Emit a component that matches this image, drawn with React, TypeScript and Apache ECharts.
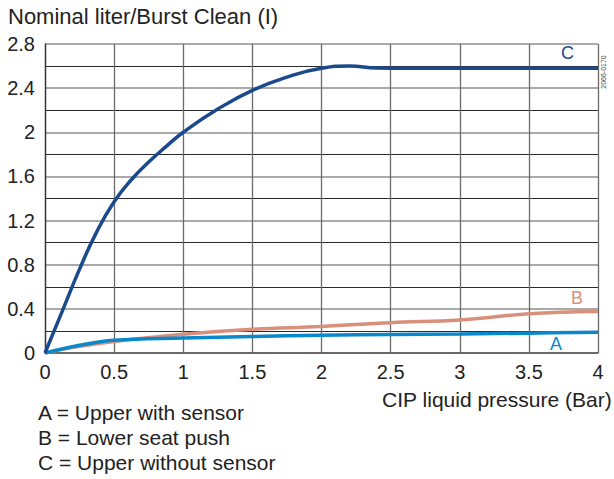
import React, { useEffect, useRef } from "react";
import * as echarts from "echarts";

const xC = [0, 0.125, 0.25, 0.375, 0.5, 0.625, 0.75, 0.875, 1, 1.25, 1.5, 1.75, 2, 2.2, 2.4, 2.6, 3, 3.5, 4];
const yC = [0, 0.38, 0.76, 1.1, 1.37, 1.57, 1.73, 1.87, 2.0, 2.21, 2.38, 2.5, 2.58, 2.6, 2.583, 2.58, 2.58, 2.58, 2.58];
const xB = [0, 0.25, 0.5, 1, 1.5, 2, 2.5, 3, 3.5, 4];
const yB = [0, 0.06, 0.105, 0.17, 0.215, 0.24, 0.275, 0.3, 0.355, 0.375];
const xA = [0, 0.25, 0.5, 1, 1.5, 2, 2.5, 3, 3.5, 4];
const yA = [0, 0.07, 0.115, 0.135, 0.15, 0.16, 0.168, 0.173, 0.18, 0.188];

const yTitle = "Nominal liter/Burst Clean (I)";
const xTitle = "CIP liquid pressure (Bar)";
const legendLines = ["A = Upper with sensor", "B = Lower seat push", "C = Upper without sensor"];
const code = "2066-0170";

const colC = "#1b4a8c";
const colB = "#d9907a";
const colA = "#0a88cc";
const FONT = "'Liberation Sans', Arial, sans-serif";

const zip = (xs: number[], ys: number[]) => xs.map((x, i) => [x, ys[i]]);

export default function App() {
  const ref = useRef<HTMLDivElement>(null);
  useEffect(() => {
    const chart = echarts.init(ref.current!, null, { renderer: "svg" });
    chart.setOption({
      animation: false,
      backgroundColor: "#fff",
      textStyle: { fontFamily: FONT },
      grid: { left: 45, right: 16, top: 44, bottom: 126, containLabel: false },
      xAxis: {
        type: "value",
        min: 0,
        max: 4,
        interval: 0.5,
        axisLine: { show: true, lineStyle: { color: "#555", width: 1.5 } },
        axisTick: { show: false },
        axisLabel: { color: "#222", fontSize: 20, margin: 9, fontFamily: FONT, formatter: (v: number) => String(+v.toFixed(1)) },
        splitLine: { show: true, lineStyle: { color: "#6a6a6a", width: 1.3 } },
      },
      yAxis: {
        type: "value",
        min: 0,
        max: 2.8,
        interval: 0.4,
        axisLine: { show: true, lineStyle: { color: "#333", width: 1.3 } },
        axisTick: { show: false },
        axisLabel: { color: "#222", fontSize: 20, margin: 10, fontFamily: FONT, formatter: (v: number) => String(+v.toFixed(1)) },
        splitLine: { show: true, lineStyle: { color: "#8c8c8c", width: 1.6 } },
        minorTick: { show: false, splitNumber: 2 },
        minorSplitLine: { show: true, lineStyle: { color: "#2a2a2a", width: 1 } },
      },
      series: [
        { type: "line", name: "B", data: zip(xB, yB), smooth: 0.4, symbol: "none", lineStyle: { color: colB, width: 3.5 }, z: 3 },
        { type: "line", name: "A", data: zip(xA, yA), smooth: 0.4, symbol: "none", lineStyle: { color: colA, width: 3.5 }, z: 4 },
        { type: "line", name: "C", data: zip(xC, yC), smooth: 0.5, symbol: "none", lineStyle: { color: colC, width: 3.5 }, z: 5 },
      ],
      graphic: [
        { type: "text", left: 8, top: 5, style: { text: yTitle, fontSize: 22, fill: "#222", fontFamily: FONT } },
        { type: "text", right: 2, top: 389, style: { text: xTitle, fontSize: 21, fill: "#222", fontFamily: FONT } },
        ...legendLines.map((t, i) => ({
          type: "text", left: 38, top: 402 + i * 25, style: { text: t, fontSize: 21, fill: "#222", fontFamily: FONT },
        })),
        { type: "text", left: 561, top: 44, style: { text: "C", fontSize: 18, fill: colC, fontFamily: FONT } },
        { type: "text", left: 571, top: 289, style: { text: "B", fontSize: 18, fill: colB, fontFamily: FONT } },
        { type: "text", left: 550, top: 335, style: { text: "A", fontSize: 18, fill: colA, fontFamily: FONT } },
        { type: "text", x: 603, y: 72, rotation: Math.PI / 2, style: { text: code, fontSize: 7, fill: "#444", fontFamily: FONT, align: "center", verticalAlign: "middle" } },
      ],
    });
    return () => chart.dispose();
  }, []);
  return <div ref={ref} style={{ width: 614, height: 479, position: "absolute", left: 0, top: 0 }} />;
}
